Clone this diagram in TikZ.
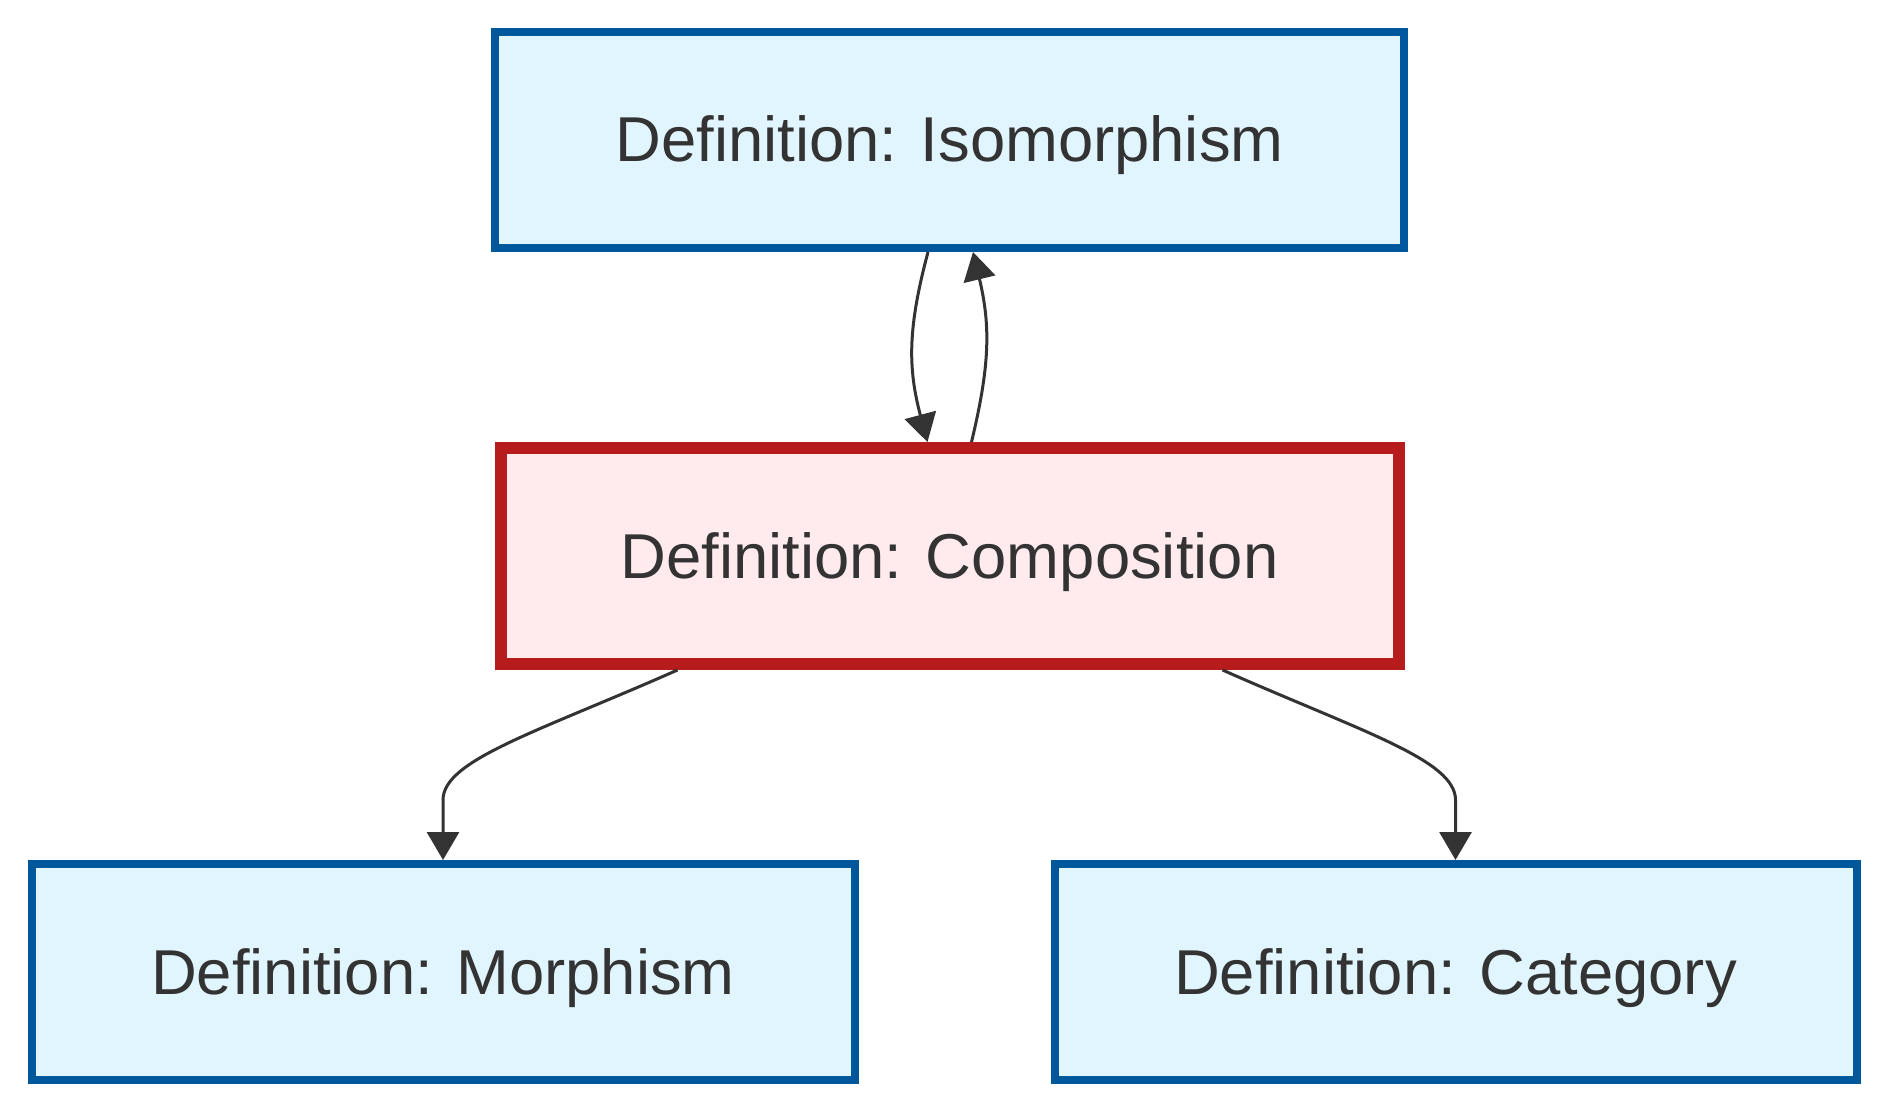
\documentclass[tikz,border=0pt]{standalone}
\usepackage{fontspec}
\setmainfont{Liberation Sans}
\usepackage{tikz}
\usetikzlibrary{arrows.meta,shapes,positioning}
\usepackage{xcolor}
\definecolor{defblue}{HTML}{01579B}
\definecolor{defbluefill}{HTML}{E1F5FE}
\definecolor{defred}{HTML}{B71C1C}
\definecolor{defredfill}{HTML}{FFEBEE}
\definecolor{inkgray}{HTML}{333333}
\tikzset{
defnode/.style = {rectangle, align=center, inner sep=0pt, text centered,
font=\fontsize{31.7pt}{38pt}\selectfont, text=inkgray, text height=24pt, text depth=2pt, minimum height=108pt},
defn_b/.style = {defnode, draw=defblue, fill=defbluefill, line width=4pt},% definition, boite bleue
defn_r/.style = {defnode, draw=defred, fill=defredfill, line width=6pt},% definition, boite rouge (courante)
dep/.style = {draw=inkgray, line width=1.5pt, -{Triangle[width=16pt,length=14pt]}}% dependance
}
\begin{document}
\begin{tikzpicture}[x=0.5pt,y=0.5pt]
  \useasboundingbox (0,0) rectangle (1888,-1112);
	\node [defn_b, minimum width=454.5pt] (iso) at (949.5,-140) {Definition: Isomorphism};
	\node [defn_r, minimum width=449pt, below=95pt of iso] (comp) {Definition: Composition};
	\node [defn_b, minimum width=411.5pt, below=95pt of comp, xshift=-253.25pt] (morph) {Definition: Morphism};
	\node [defn_b, minimum width=401pt, below=95pt of comp, xshift=253pt] (cat) {Definition: Category};

	\draw [dep] ([xshift=-10.75pt]iso.south) .. controls +(-20,-75) and +(-20,75) .. ([xshift=-11pt]comp.north);
	\draw [dep] ([xshift=11pt]comp.north) .. controls +(18,75) and +(18,-75) .. ([xshift=11.75pt]iso.south);
	\draw [dep] ([xshift=-136pt]comp.south) .. controls +(-140,-62) and +(0,40) .. ([yshift=30pt]morph.north) -- (morph.north);
	\draw [dep] ([xshift=136.5pt]comp.south) .. controls +(140,-62) and +(0,40) .. ([yshift=30pt]cat.north) -- (cat.north);
\end{tikzpicture}
\end{document}
